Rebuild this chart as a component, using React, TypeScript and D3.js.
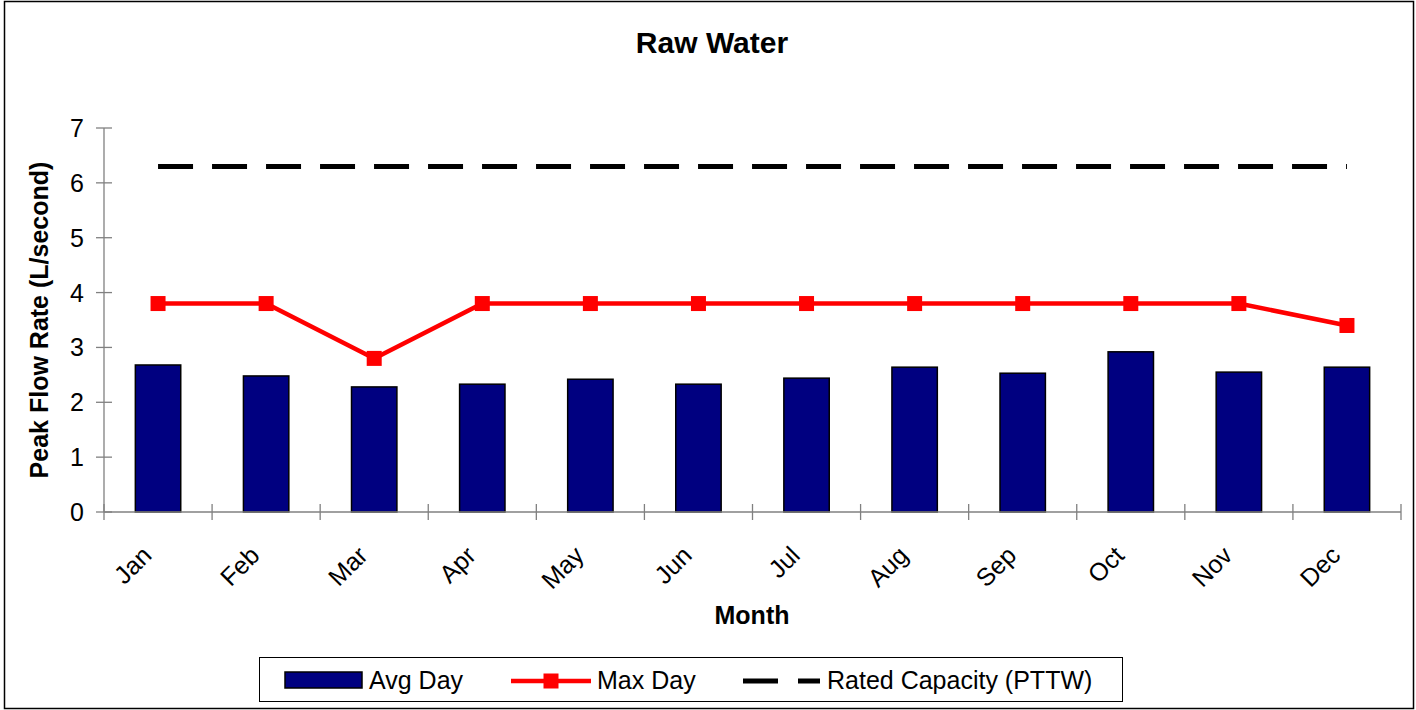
import { useMemo } from 'react'
import * as d3 from 'd3'

const W = 1416
const H = 710
const M = { top: 128, right: 15, bottom: 198, left: 104 }

const months = ['Jan', 'Feb', 'Mar', 'Apr', 'May', 'Jun', 'Jul', 'Aug', 'Sep', 'Oct', 'Nov', 'Dec']
const avgDay = [2.68, 2.48, 2.28, 2.33, 2.42, 2.33, 2.44, 2.64, 2.53, 2.92, 2.55, 2.64]
const maxDay = [3.8, 3.8, 2.8, 3.8, 3.8, 3.8, 3.8, 3.8, 3.8, 3.8, 3.8, 3.4]
const ratedCapacity = [6.3, 6.3, 6.3, 6.3, 6.3, 6.3, 6.3, 6.3, 6.3, 6.3, 6.3, 6.3]
const yTicks = [0, 1, 2, 3, 4, 5, 6, 7]

const FONT = '"Liberation Sans", Arial, sans-serif'
const AXIS = '#808080'

export default function App() {
  const x = useMemo(
    () => d3.scaleBand<string>().domain(months).range([M.left, W - M.right]).paddingInner(0).paddingOuter(0),
    []
  )
  const y = useMemo(() => d3.scaleLinear().domain([0, 7]).range([H - M.bottom, M.top]), [])
  const bw = x.bandwidth() * 0.42
  const cx = (m: string) => (x(m) ?? 0) + x.bandwidth() / 2

  const maxLine = d3
    .line<number>()
    .x((_, i) => cx(months[i]))
    .y((d) => y(d))(maxDay)
  const capLine = d3
    .line<number>()
    .x((_, i) => cx(months[i]))
    .y((d) => y(d))(ratedCapacity)

  const y0 = y(0)

  return (
    <svg width={W} height={H} style={{ display: 'block', position: 'absolute', left: 0, top: 0 }} fontFamily={FONT}>
      <rect x={0} y={0} width={W} height={H} fill="#fff" />
      <rect x={4.5} y={1.5} width={1409} height={707} fill="none" stroke="#000" strokeWidth={1.5} />

      <text x={712} y={53} textAnchor="middle" fontSize={30} fontWeight="bold">
        Raw Water
      </text>

      {/* bars */}
      {months.map((m, i) => (
        <rect
          key={m}
          x={cx(m) - bw / 2}
          y={y(avgDay[i])}
          width={bw}
          height={y0 - y(avgDay[i])}
          fill="#000080"
          stroke="#000"
          strokeWidth={1.5}
        />
      ))}

      {/* axes */}
      <line x1={M.left} x2={M.left} y1={M.top} y2={y0} stroke={AXIS} strokeWidth={1.3} />
      <line x1={M.left} x2={W - M.right} y1={y0} y2={y0} stroke={AXIS} strokeWidth={1.3} />
      {yTicks.map((t) => (
        <g key={t}>
          <line x1={M.left - 8} x2={M.left + 8} y1={y(t)} y2={y(t)} stroke={AXIS} strokeWidth={1.3} />
          <text x={84} y={y(t)} textAnchor="end" dominantBaseline="central" fontSize={25}>
            {t}
          </text>
        </g>
      ))}
      {[...months.map((m) => x(m) ?? 0), W - M.right].map((v, i) => (
        <line key={i} x1={v} x2={v} y1={y0 - 8} y2={y0 + 8} stroke={AXIS} strokeWidth={1.3} />
      ))}
      {months.map((m) => (
        <text
          key={m}
          transform={`translate(${cx(m) - 5},${y0 + 45}) rotate(-45)`}
          textAnchor="end"
          fontSize={25}
        >
          {m}
        </text>
      ))}

      {/* rated capacity */}
      <path d={capLine ?? ''} fill="none" stroke="#000" strokeWidth={5} strokeDasharray="35 19" />

      {/* max day */}
      <path d={maxLine ?? ''} fill="none" stroke="#ff0000" strokeWidth={4.5} />
      {months.map((m, i) => (
        <rect key={m} x={cx(m) - 7.5} y={y(maxDay[i]) - 7.5} width={15} height={15} fill="#ff0000" />
      ))}

      <text x={752} y={624} textAnchor="middle" fontSize={25} fontWeight="bold">
        Month
      </text>
      <text
        transform={`translate(48,${(M.top + y0) / 2}) rotate(-90)`}
        textAnchor="middle"
        fontSize={25}
        fontWeight="bold"
      >
        Peak Flow Rate (L/second)
      </text>

      {/* legend */}
      <g fontSize={25}>
        <rect x={259.5} y={657.5} width={863} height={44} fill="#fff" stroke="#000" strokeWidth={1} />
        <rect x={285} y={672} width={77} height={16} fill="#000080" stroke="#000" strokeWidth={1.5} />
        <text x={369} y={689}>Avg Day</text>
        <line x1={511} x2={591} y1={681} y2={681} stroke="#ff0000" strokeWidth={4.5} />
        <rect x={543.5} y={673.5} width={15} height={15} fill="#ff0000" />
        <text x={597} y={689}>Max Day</text>
        <line x1={743} x2={820} y1={681} y2={681} stroke="#000" strokeWidth={5} strokeDasharray="35 20" />
        <text x={827} y={689}>Rated Capacity (PTTW)</text>
      </g>
    </svg>
  )
}
